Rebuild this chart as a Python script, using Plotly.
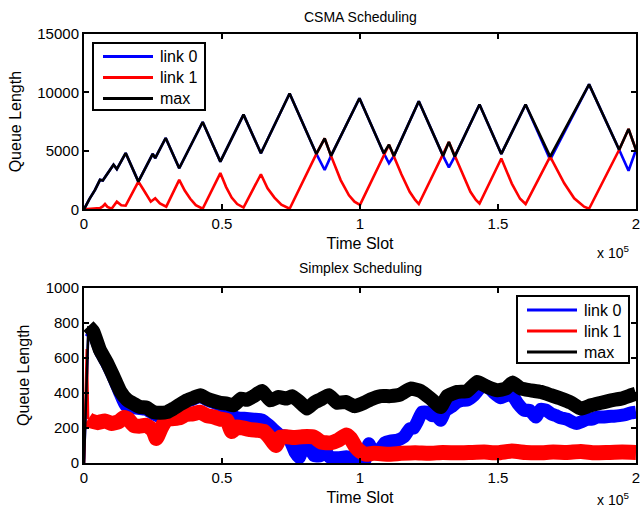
import plotly.graph_objects as go

# ---------------- CSMA Scheduling (time in units of 1e5 slots) ----------------
csma_t_max = [0, 0.02, 0.04, 0.058, 0.068, 0.080, 0.107, 0.119, 0.151, 0.197, 0.249, 0.258,
              0.296, 0.345, 0.430, 0.494, 0.578, 0.641, 0.745, 0.842, 0.872, 0.895, 0.998,
              1.086, 1.105, 1.123, 1.213, 1.301, 1.322, 1.343, 1.433, 1.512, 1.600, 1.689,
              1.830, 1.939, 1.973, 2.000]
csma_max = [0, 900, 1660, 2520, 2460, 2860, 3810, 3440, 4810, 2370, 4750, 4380,
            6100, 3510, 7470, 4080, 8100, 4800, 9910, 4740, 6060, 4570, 9500,
            4800, 5520, 4570, 9250, 4570, 5750, 4510, 8970, 4740, 8970, 4510,
            10690, 5090, 6870, 5090]

csma_t_link0 = csma_t_max
csma_link0 = [0, 900, 1660, 2520, 2460, 2860, 3810, 3440, 4810, 2370, 4750, 4380,
              6100, 3510, 7470, 4080, 8100, 4800, 9910, 4740, 3360, 4570, 9500,
              4800, 3940, 4570, 9250, 4570, 3590, 4510, 8970, 4740, 8970, 4250,
              10690, 5090, 3300, 5090]

csma_t_link1 = [0, 0.03, 0.058, 0.068, 0.076, 0.085, 0.100, 0.119, 0.135, 0.151, 0.197,
                0.215, 0.230, 0.242, 0.258, 0.275, 0.298, 0.345, 0.365, 0.385, 0.405,
                0.430, 0.494, 0.515, 0.535, 0.555, 0.578, 0.641, 0.665, 0.690, 0.715,
                0.745, 0.842, 0.872, 0.895, 0.930, 0.960, 0.980, 1.000, 1.105, 1.150,
                1.180, 1.200, 1.213, 1.322, 1.370, 1.400, 1.420, 1.433, 1.512, 1.550,
                1.580, 1.600, 1.689, 1.740, 1.776, 1.812, 1.830, 1.939, 1.973, 2.000]
csma_link1 = [0, 50, 100, 250, 450, 200, 50, 650, 350, 310, 2370,
              1700, 1150, 650, 940, 500, 225, 2520, 1600, 900, 350,
              50, 3100, 1900, 1000, 450, 150, 3000, 1800, 1000, 400,
              50, 4740, 6060, 4570, 2500, 1200, 650, 380, 5520, 3000,
              1500, 800, 450, 5750, 3100, 1500, 800, 500, 4350, 2200,
              900, 450, 4510, 2230, 940, 220, 50, 5090, 6870, 5090]

# ---------------- Simplex Scheduling ----------------
simp_t_max = [0, 0.016, 0.034, 0.058, 0.082, 0.106, 0.131, 0.155, 0.179, 0.203, 0.227,
              0.252, 0.276, 0.300, 0.324, 0.348, 0.373, 0.397, 0.421, 0.445, 0.470,
              0.494, 0.518, 0.542, 0.570, 0.590, 0.615, 0.645, 0.675, 0.705, 0.735,
              0.754, 0.778, 0.808, 0.833, 0.857, 0.887, 0.917, 0.948, 0.979, 1.015,
              1.038, 1.075, 1.110, 1.147, 1.183, 1.220, 1.256, 1.292, 1.316, 1.353,
              1.389, 1.425, 1.462, 1.498, 1.528, 1.552, 1.583, 1.619, 1.655, 1.692,
              1.728, 1.765, 1.800, 1.837, 1.873, 1.910, 1.946, 1.982, 2.000]
simp_max = [0, 780, 748, 643, 576, 496, 410, 362, 338, 319, 315,
            290, 286, 290, 310, 334, 357, 372, 386, 367, 353,
            343, 338, 329, 367, 360, 381, 410, 357, 376, 367,
            381, 353, 310, 343, 362, 386, 343, 348, 324, 343,
            362, 381, 381, 391, 424, 410, 367, 319, 381, 405,
            410, 462, 433, 414, 424, 458, 424, 414, 405, 386,
            367, 343, 310, 329, 343, 357, 367, 386, 395]

simp_t_link0 = [0, 0.016, 0.034, 0.058, 0.082, 0.106, 0.131, 0.150, 0.170, 0.203, 0.227,
                0.252, 0.276, 0.300, 0.324, 0.348, 0.373, 0.397, 0.421, 0.445, 0.470,
                0.494, 0.518, 0.548, 0.580, 0.615, 0.645, 0.670, 0.690, 0.710, 0.740,
                0.765, 0.780, 0.795, 0.808, 0.833, 0.855, 0.868, 0.890, 0.920, 0.950,
                0.980, 1.000, 1.020, 1.032, 1.045, 1.065, 1.090, 1.110, 1.135, 1.160,
                1.180, 1.195, 1.207, 1.225, 1.244, 1.260, 1.280, 1.292, 1.310, 1.330,
                1.350, 1.370, 1.390, 1.413, 1.437, 1.455, 1.470, 1.485, 1.510, 1.530,
                1.552, 1.572, 1.595, 1.615, 1.637, 1.655, 1.675, 1.692, 1.710, 1.727,
                1.750, 1.770, 1.785, 1.800, 1.820, 1.840, 1.860, 1.880, 1.900, 1.920,
                1.940, 1.960, 1.980, 2.000]
simp_link0 = [0, 760, 740, 640, 570, 490, 395, 330, 320, 310, 305,
              280, 265, 270, 300, 325, 350, 365, 380, 360, 345,
              330, 310, 260, 255, 250, 245, 215, 186, 160, 148,
              60, 30, 100, 110, 43, 40, 85, 33, 30, 35,
              25, 15, 20, 110, 70, 62, 115, 125, 130, 150,
              195, 200, 233, 290, 290, 271, 265, 243, 300, 319,
              345, 357, 360, 386, 430, 440, 425, 400, 372, 385,
              385, 338, 300, 300, 262, 306, 300, 281, 270, 258,
              250, 233, 225, 233, 248, 250, 262, 262, 265, 267,
              270, 275, 285, 290]

simp_t_link1 = [0, 0.010, 0.015, 0.025, 0.050, 0.075, 0.100, 0.125, 0.145, 0.160,
                0.180, 0.200, 0.225, 0.250, 0.262, 0.280, 0.300, 0.325, 0.350, 0.370,
                0.395, 0.420, 0.445, 0.470, 0.494, 0.518, 0.535, 0.554, 0.575, 0.603,
                0.630, 0.652, 0.675, 0.695, 0.712, 0.735, 0.760, 0.790, 0.833, 0.860,
                0.894, 0.920, 0.950, 0.966, 0.985, 1.000, 1.020, 1.050, 1.100, 1.150,
                1.200, 1.250, 1.300, 1.350, 1.400, 1.450, 1.500, 1.550, 1.600, 1.650,
                1.700, 1.750, 1.800, 1.850, 1.900, 1.950, 2.000]
simp_link1 = [0, 650, 250, 240, 230, 240, 225, 235, 260, 250,
              214, 210, 215, 186, 140, 200, 250, 253, 260, 277,
              280, 290, 270, 262, 250, 243, 180, 205, 200, 190,
              186, 180, 140, 100, 148, 150, 145, 150, 148, 119,
              115, 129, 160, 140, 90, 67, 50, 55, 50, 55,
              58, 55, 60, 58, 60, 62, 58, 68, 60, 58,
              62, 60, 65, 58, 60, 62, 60]

# ---------------- labels ----------------
series_names = ["link 0", "link 1", "max"]
series_colors = ["#0000ff", "#ff0000", "#000000"]
x_ticks = [0, 0.5, 1, 1.5, 2]
csma_y_ticks = [0, 5000, 10000, 15000]
simp_y_ticks = [0, 200, 400, 600, 800, 1000]

FONT = "Liberation Sans, Arial, Helvetica, sans-serif"
W, H = 640, 510
ML, MR, MT, MB = 84, 4, 34, 47
PW, PH = W - ML - MR, H - MT - MB


def px_to_paper(xp, yp):
    return (xp - ML) / PW, (H - MB - yp) / PH


fig = go.Figure()

top = [(csma_t_link0, csma_link0), (csma_t_link1, csma_link1), (csma_t_max, csma_max)]
for (tx, ty), name, col in zip(top, series_names, series_colors):
    fig.add_trace(go.Scatter(x=tx, y=ty, mode="lines", name=name,
                             line=dict(color=col, width=2.6),
                             xaxis="x", yaxis="y", showlegend=False, hoverinfo="skip"))

# noisy bands: thin start-up transient, then a wide stroke for the noisy band
bottom = [(simp_t_link0, simp_link0, 13, 2), (simp_t_link1, simp_link1, 15, 3),
          (simp_t_max, simp_max, 14, 2)]
for (tx, ty, w, k), name, col in zip(bottom, series_names, series_colors):
    fig.add_trace(go.Scatter(x=tx[:k], y=ty[:k], mode="lines", name=name,
                             line=dict(color=col, width=2.5),
                             xaxis="x2", yaxis="y2", showlegend=False, hoverinfo="skip"))
    fig.add_trace(go.Scatter(x=tx[k - 1:], y=ty[k - 1:], mode="lines", name=name,
                             line=dict(color=col, width=w, shape="spline", smoothing=0.4),
                             xaxis="x2", yaxis="y2", showlegend=False, hoverinfo="skip"))

# ---- MATLAB-style legends (box, line samples, labels) ----
shapes, annotations = [], []
legend_boxes = [  # (left, top, right, bottom, first row y, row step) in pixels
    (93, 43, 205, 110, 56.5, 21),
    (517, 296, 629, 363, 310, 21),
]
for (bl, bt, br, bb, ry, step) in legend_boxes:
    x0, y0 = px_to_paper(bl, bb)
    x1, y1 = px_to_paper(br, bt)
    shapes.append(dict(type="rect", xref="paper", yref="paper", x0=x0, y0=y0, x1=x1, y1=y1,
                       line=dict(color="black", width=2), fillcolor="white", layer="above"))
    for i, (name, col) in enumerate(zip(series_names, series_colors)):
        yy = ry + i * step
        lx0, ly = px_to_paper(bl + 10, yy)
        lx1, _ = px_to_paper(bl + 60, yy)
        tx, _ = px_to_paper(bl + 65, yy)
        shapes.append(dict(type="line", xref="paper", yref="paper", x0=lx0, x1=lx1,
                           y0=ly, y1=ly, line=dict(color=col, width=3), layer="above"))
        annotations.append(dict(text=name, x=tx, y=ly, xref="paper", yref="paper",
                                xanchor="left", yanchor="middle", showarrow=False,
                                font=dict(size=16, family=FONT, color="black")))

for text, xp, yp, anchor in [("CSMA Scheduling", 360, 17, "center"),
                             ("Simplex Scheduling", 360, 268, "center"),
                             ("x 10<sup>5</sup>", 631, 252, "right"),
                             ("x 10<sup>5</sup>", 631, 499, "right")]:
    ax, ay = px_to_paper(xp, yp)
    annotations.append(dict(text=text, x=ax, y=ay, xref="paper", yref="paper",
                            xanchor=anchor, yanchor="middle", showarrow=False,
                            font=dict(size=14, family=FONT, color="black")))

axis_common = dict(showline=True, linecolor="black", linewidth=2, mirror="ticks",
                   ticks="inside", ticklen=5, tickwidth=1.5, tickcolor="black",
                   showgrid=False, zeroline=False, automargin=False,
                   ticklabeloverflow="allow",
                   tickfont=dict(family=FONT, size=15, color="black"))

top_dom = [(H - MB - 209.3) / PH, 1]
bot_dom = [0, (H - MB - 287.5) / PH]

fig.update_layout(
    width=W, height=H,
    margin=dict(l=ML, r=MR, t=MT, b=MB),
    paper_bgcolor="white", plot_bgcolor="white",
    font=dict(family=FONT, color="black"),
    showlegend=False,
    xaxis=dict(domain=[0, 1], anchor="y", range=[0, 2], tickvals=x_ticks,
               title=dict(text="Time Slot", font=dict(size=16), standoff=7), **axis_common),
    yaxis=dict(domain=top_dom, anchor="x", range=[0, 15000], tickvals=csma_y_ticks,
               tickformat="d", title=dict(text="Queue Length", font=dict(size=16), standoff=12),
               **axis_common),
    xaxis2=dict(domain=[0, 1], anchor="y2", range=[0, 2], tickvals=x_ticks,
                title=dict(text="Time Slot", font=dict(size=16), standoff=7), **axis_common),
    yaxis2=dict(domain=bot_dom, anchor="x2", range=[0, 1000], tickvals=simp_y_ticks,
                tickformat="d", title=dict(text="Queue Length", font=dict(size=16), standoff=12),
                **axis_common),
    shapes=shapes,
    annotations=annotations,
)

fig.write_html("out.html", config={"displayModeBar": False},
               post_script="document.body.style.margin='0px';")
